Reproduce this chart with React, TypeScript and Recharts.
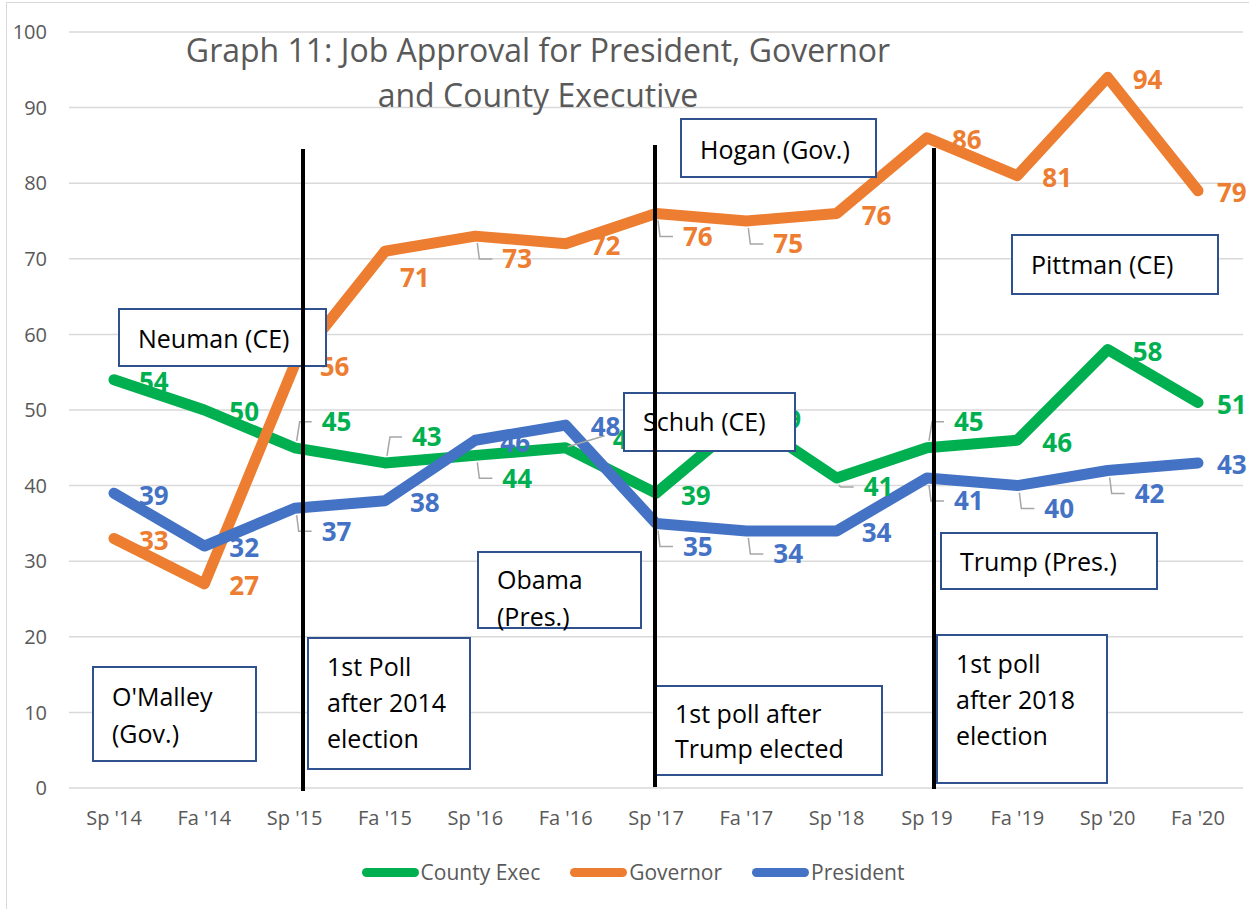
import React from 'react';
import { LineChart, Line, XAxis, YAxis, CartesianGrid, LabelList } from 'recharts';

const categories = ["Sp '14", "Fa '14", "Sp '15", "Fa '15", "Sp '16", "Fa '16", "Sp '17", "Fa '17", "Sp '18", "Sp 19", "Fa '19", "Sp '20", "Fa '20"];
const countyExec = [54, 50, 45, 43, 44, 45, 39, 49, 41, 45, 46, 58, 51];
const governor = [33, 27, 56, 71, 73, 72, 76, 75, 76, 86, 81, 94, 79];
const president = [39, 32, 37, 38, 46, 48, 35, 34, 34, 41, 40, 42, 43];
const yTicks = [0, 10, 20, 30, 40, 50, 60, 70, 80, 90, 100];

// where each data label sits relative to its point
const execPlaces = ['right', 'right', 'above', 'above', 'below', 'diag', 'right', 'right', 'low', 'above', 'right', 'right', 'last'];
const govPlaces = ['right', 'right', 'right', 'under', 'below', 'right', 'below', 'below', 'right', 'right', 'right', 'right', 'last'];
const presPlaces = ['right', 'right', 'below', 'right', 'right', 'right', 'below', 'below', 'right', 'below', 'below', 'below', 'last'];

const GREEN = '#00b050';
const ORANGE = '#ed7d31';
const BLUE = '#4472c4';
const FONT = '"Open Sans", "Noto Sans", sans-serif';

const PLACE: Record<string, { dx: number; dy: number; leader?: string }> = {
    right: { dx: 25, dy: 2 },
    last: { dx: 19, dy: 2 },
    under: { dx: 15, dy: 26 },
    below: { dx: 27, dy: 23, leader: 'down' },
    low: { dx: 27, dy: 9, leader: 'down' },
    above: { dx: 27, dy: -26, leader: 'up' },
    diag: { dx: 47, dy: -8, leader: 'diag' },
};

const data = categories.map((c, i) => ({
    cat: c,
    exec: countyExec[i],
    gov: governor[i],
    pres: president[i],
}));

const makeLabel = (color: string, places: string[]) => (props: any) => {
    const { x, y, value, index } = props;
    const p = PLACE[places[index]] ?? PLACE.right;
    const lx = x + p.dx;
    const cy = y + p.dy;
    let d = '';
    if (p.leader === 'down') d = `M${x + 2},${y + 7} L${x + 4},${cy} L${lx - 10},${cy}`;
    if (p.leader === 'up') d = `M${x + 2},${y - 7} L${x + 5},${cy} L${lx - 10},${cy}`;
    if (p.leader === 'diag') d = `M${x + 2},${y - 1} L${lx - 8},${cy - 4}`;
    return (
        <g key={`lbl-${color}-${index}`}>
            {d && <path d={d} stroke="#a6a6a6" strokeWidth={1.5} fill="none" />}
            <text x={lx} y={cy} dy="0.36em" fill={color} fontSize={26} fontWeight={700} fontFamily={FONT}>
                {value}
            </text>
        </g>
    );
};

const boxes = [
    { lines: ['Neuman (CE)'], left: 118, top: 308, w: 209, h: 59, pad: 10, lh: 36 },
    { lines: ['Hogan (Gov.)'], left: 680, top: 118, w: 197, h: 60, pad: 11, lh: 36 },
    { lines: ['Pittman (CE)'], left: 1011, top: 234, w: 208, h: 61, pad: 10, lh: 36 },
    { lines: ['Schuh (CE)'], left: 623, top: 392, w: 173, h: 60, pad: 9, lh: 36 },
    { lines: ['Trump (Pres.)'], left: 940, top: 532, w: 218, h: 58, pad: 9, lh: 36 },
    { lines: ['Obama', '(Pres.)'], left: 477, top: 551, w: 165, h: 78, pad: 8, lh: 37 },
    { lines: ['1st Poll', 'after 2014', 'election'], left: 307, top: 637, w: 164, h: 133, pad: 9, lh: 36 },
    { lines: ["O'Malley", '(Gov.)'], left: 92, top: 666, w: 165, h: 96, pad: 10, lh: 37 },
    { lines: ['1st poll after', 'Trump elected'], left: 655, top: 685, w: 228, h: 91, pad: 9, lh: 35 },
    { lines: ['1st poll', 'after 2018', 'election'], left: 936, top: 634, w: 172, h: 150, pad: 9, lh: 36 },
];

const dividers = [
    { x: 303, top: 149, bottom: 791 },
    { x: 655, top: 145, bottom: 787 },
    { x: 934, top: 148, bottom: 789 },
];

const legendItems = [
    { name: 'County Exec', color: GREEN },
    { name: 'Governor', color: ORANGE },
    { name: 'President', color: BLUE },
];

export default function App() {
    return (
        <div style={{ position: 'absolute', left: 0, top: 0, width: 1249, height: 909, overflow: 'hidden', background: '#fff', fontFamily: FONT }}>
            <div style={{ position: 'absolute', left: 6, top: 2, width: 1300, height: 1000, border: '1px solid #d9d9d9' }} />
            <LineChart width={1249} height={909} data={data} margin={{ top: 32, right: 6, bottom: 81, left: 0 }}>
                <CartesianGrid vertical={false} stroke="#d9d9d9" strokeWidth={1.5} />
                <XAxis
                    dataKey="cat"
                    height={40}
                    padding={{ left: 45, right: 45 }}
                    axisLine={false}
                    tickLine={false}
                    tickMargin={17}
                    interval={0}
                    tick={{ fill: '#595959', fontSize: 20, fontFamily: FONT }}
                />
                <YAxis
                    width={69}
                    domain={[0, 100]}
                    ticks={yTicks}
                    interval={0}
                    axisLine={false}
                    tickLine={false}
                    tickMargin={16}
                    tick={{ fill: '#595959', fontSize: 20, fontFamily: FONT }}
                />
                <Line dataKey="exec" name="County Exec" stroke={GREEN} strokeWidth={11} strokeLinejoin="round" strokeLinecap="round" dot={false} isAnimationActive={false}>
                    <LabelList dataKey="exec" content={makeLabel(GREEN, execPlaces)} />
                </Line>
                <Line dataKey="gov" name="Governor" stroke={ORANGE} strokeWidth={11} strokeLinejoin="round" strokeLinecap="round" dot={false} isAnimationActive={false}>
                    <LabelList dataKey="gov" content={makeLabel(ORANGE, govPlaces)} />
                </Line>
                <Line dataKey="pres" name="President" stroke={BLUE} strokeWidth={11} strokeLinejoin="round" strokeLinecap="round" dot={false} isAnimationActive={false}>
                    <LabelList dataKey="pres" content={makeLabel(BLUE, presPlaces)} />
                </Line>
            </LineChart>

            {/* title */}
            <div style={{ position: 'absolute', left: 138, top: 27, width: 800, textAlign: 'center', fontSize: 32, lineHeight: '45px', color: '#595959' }}>
                <div>Graph 11: Job Approval for President, Governor</div>
                <div>and County Executive</div>
            </div>

            {/* annotation boxes */}
            {boxes.map((b, i) => (
                <div
                    key={i}
                    style={{
                        position: 'absolute',
                        left: b.left,
                        top: b.top,
                        width: b.w,
                        height: b.h,
                        boxSizing: 'border-box',
                        border: '2px solid #2f528f',
                        background: '#fff',
                        paddingLeft: 18,
                        paddingTop: b.pad,
                        fontSize: 25,
                        lineHeight: `${b.lh}px`,
                        color: '#000',
                        whiteSpace: 'nowrap',
                        overflow: 'visible',
                    }}
                >
                    {b.lines.map((t, j) => (
                        <div key={j}>{t}</div>
                    ))}
                </div>
            ))}

            {dividers.map((d, i) => (
                <div key={i} style={{ position: 'absolute', left: d.x - 2, top: d.top, width: 4, height: d.bottom - d.top, background: '#000' }} />
            ))}

            {/* legend */}
            <div style={{ position: 'absolute', left: 0, top: 858, width: 1266, height: 28, display: 'flex', justifyContent: 'center', alignItems: 'center', gap: 30 }}>
                {legendItems.map((it) => (
                    <div key={it.name} style={{ display: 'flex', alignItems: 'center' }}>
                        <div style={{ width: 57, height: 9, borderRadius: 5, background: it.color, marginRight: 2 }} />
                        <span style={{ fontSize: 21, color: '#595959' }}>{it.name}</span>
                    </div>
                ))}
            </div>
        </div>
    );
}
